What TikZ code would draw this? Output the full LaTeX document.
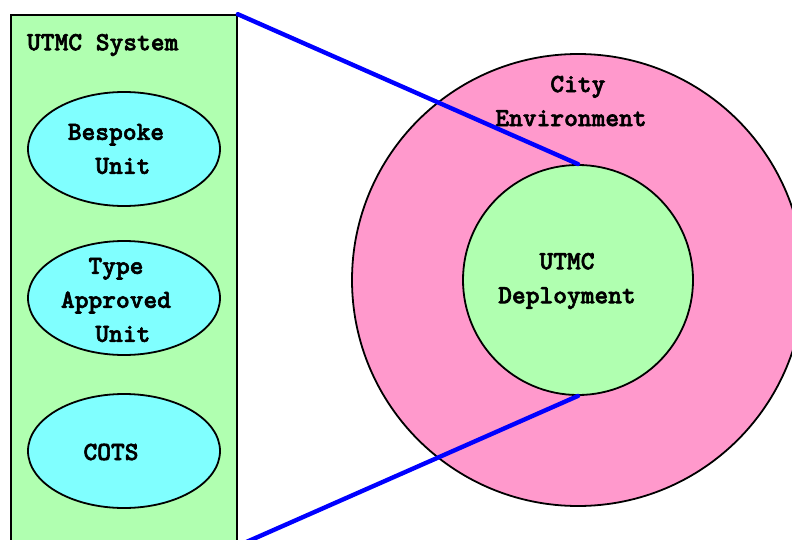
\documentclass[tikz,border=0pt]{standalone}
\usepackage{fontspec}
\newfontfamily\utmcfont[FakeBold=2.2]{lmmonolt10-bold.otf}
\usepackage{tikz}
\definecolor{boxgreen}{RGB}{176,255,176}
\definecolor{unitcyan}{RGB}{128,255,255}
\definecolor{citypink}{RGB}{255,153,204}
\usetikzlibrary{shapes,arrows}

\begin{document}
\begin{tikzpicture}[x=0.5pt, y=-0.5pt,
			unit/.style={draw, ellipse, fill=unitcyan, line width=0.9pt, minimum width=96pt, minimum height=57pt, inner sep=0pt},
			txt/.style={align=center, font=\utmcfont\fontsize{13.1}{17}\selectfont},
			link/.style={blue, line width=2.2pt, line cap=round}]
			%Bildbereich
			\useasboundingbox (0,0) rectangle (792,540);
			\clip (0,0) rectangle (792,540);
			% System-Kasten
			\node (sys) [draw, fill=boxgreen, line width=0.8pt, minimum width=113pt, minimum height=265pt, inner sep=0pt] at (124,280) {};
			\node (systxt) [txt, anchor=west] at (20,45) {UTMC System};
			% Einheiten
			\node (bespoke) [unit] at (124,149) {};
			\node (typeapp) [unit] at (124,298) {};
			\node (cots) [unit] at (124,451) {};
			\node (bespoketxt) [txt] at (116,149) {Bespoke\\\ Unit};
			\node (typeapptxt) [txt] at (116,300) {Type\\Approved\\\ Unit};
			\node (cotstxt) [txt] at (111,452) {COTS};
			% Umgebung
			\node (city) [draw, circle, fill=citypink, line width=0.9pt, minimum size=226pt, inner sep=0pt] at (578,280) {};
			\node (deploy) [draw, circle, fill=boxgreen, line width=0.9pt, minimum size=115pt, inner sep=0pt] at (578,280) {};
			\node (citytxt) [txt] at (571,101) {\ City\\Environment};
			\node (deploytxt) [txt] at (567,281) {UTMC\\Deployment};
			% Verbindungen
			\draw[link] (sys.north east) -- (deploy.north);
			\draw[link] (sys.south east) -- (deploy.south);
		\end{tikzpicture}
\end{document}
